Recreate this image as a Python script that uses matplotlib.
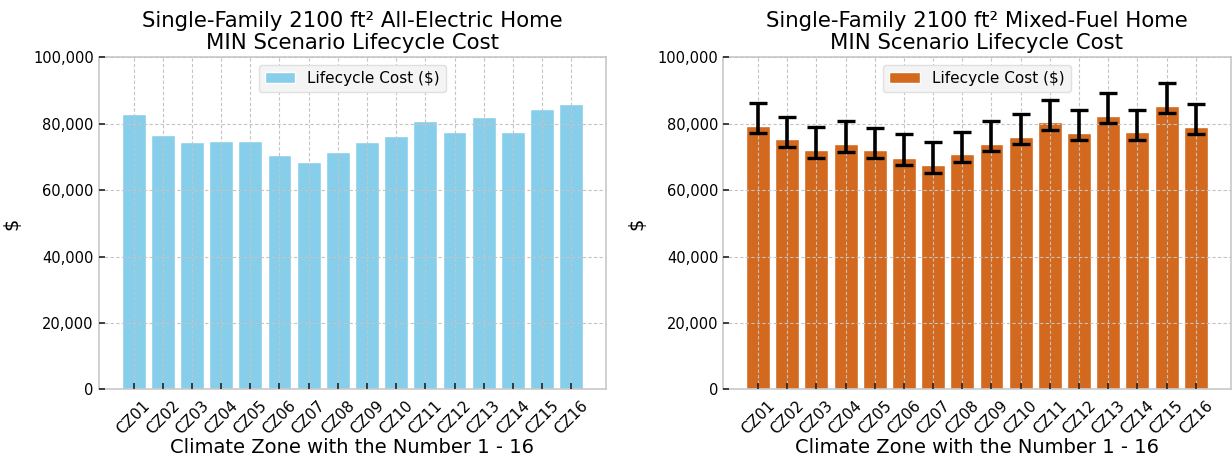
import matplotlib.pyplot as plt
import numpy as np
from matplotlib.ticker import FuncFormatter

# climate zones and lifecycle costs
zones = ['CZ%02d' % i for i in range(1, 17)]

electric_cost = [83000, 76700, 74600, 74900, 74700, 70600, 68400, 71400,
                 74600, 76400, 80700, 77500, 82000, 77400, 84300, 86000]

mixed_cost = [79400, 75300, 72100, 73800, 72000, 69800, 67600, 70900,
              74000, 76000, 80600, 77200, 82200, 77400, 85300, 79100]
mixed_low = [77200, 73100, 69800, 71600, 69700, 67700, 65300, 68600,
             71900, 73800, 78200, 75100, 80100, 75100, 83300, 77000]
mixed_high = [86200, 82100, 78900, 80700, 78600, 76800, 74400, 77600,
              80700, 82800, 87200, 84000, 89100, 84000, 92300, 86000]

plt.rcParams['font.family'] = 'DejaVu Sans'
plt.rcParams['xtick.direction'] = 'in'
plt.rcParams['ytick.direction'] = 'in'

fig, axes = plt.subplots(1, 2, figsize=(12.32, 4.62), dpi=100)
fig.subplots_adjust(left=0.08, right=0.999, top=0.876, bottom=0.157, wspace=0.23)

x = np.arange(len(zones))
yerr = [np.array(mixed_cost) - np.array(mixed_low),
        np.array(mixed_high) - np.array(mixed_cost)]

axes[0].bar(x, electric_cost, width=0.82, color='skyblue', edgecolor='white',
            linewidth=1, label='Lifecycle Cost ($)', zorder=2)
axes[0].set_title('Single-Family 2100 ft² All-Electric Home\nMIN Scenario Lifecycle Cost',
                  fontsize=15.3, linespacing=1.1)

axes[1].bar(x, mixed_cost, width=0.82, color='chocolate', edgecolor='white',
            linewidth=1, label='Lifecycle Cost ($)', zorder=2)
axes[1].errorbar(x, mixed_cost, yerr=yerr, fmt='none', ecolor='black',
                 elinewidth=2.6, capsize=6.5, capthick=2.4, zorder=3)
axes[1].set_title('Single-Family 2100 ft² Mixed-Fuel Home\nMIN Scenario Lifecycle Cost',
                  fontsize=15.3, linespacing=1.1)

for ax in axes:
    ax.set_ylim(0, 100000)
    ax.set_yticks(range(0, 100001, 20000))
    ax.yaxis.set_major_formatter(FuncFormatter(lambda v, p: '{:,.0f}'.format(v)))
    ax.set_xticks(x)
    ax.set_xticklabels(zones, rotation=45, ha='center')
    ax.tick_params(labelsize=10.5, length=4, width=1.2, color='#222222')
    ax.tick_params(axis='x', labelsize=11, pad=6)
    ax.set_xlabel('Climate Zone with the Number 1 - 16', fontsize=14, labelpad=1)
    ax.set_ylabel('$', fontsize=14, labelpad=8)
    ax.grid(True, linestyle=(0, (3, 2)), color='#c4c4c4', linewidth=0.8, zorder=0)
    ax.set_axisbelow(False)
    for s in ax.spines.values():
        s.set_color('#c8c8c8')
        s.set_linewidth(1.2)
    ax.legend(loc='upper center', fontsize=11, fancybox=True,
              facecolor='#f4f4f4', edgecolor='#e0e0e0', framealpha=1)

plt.savefig('out.png')
